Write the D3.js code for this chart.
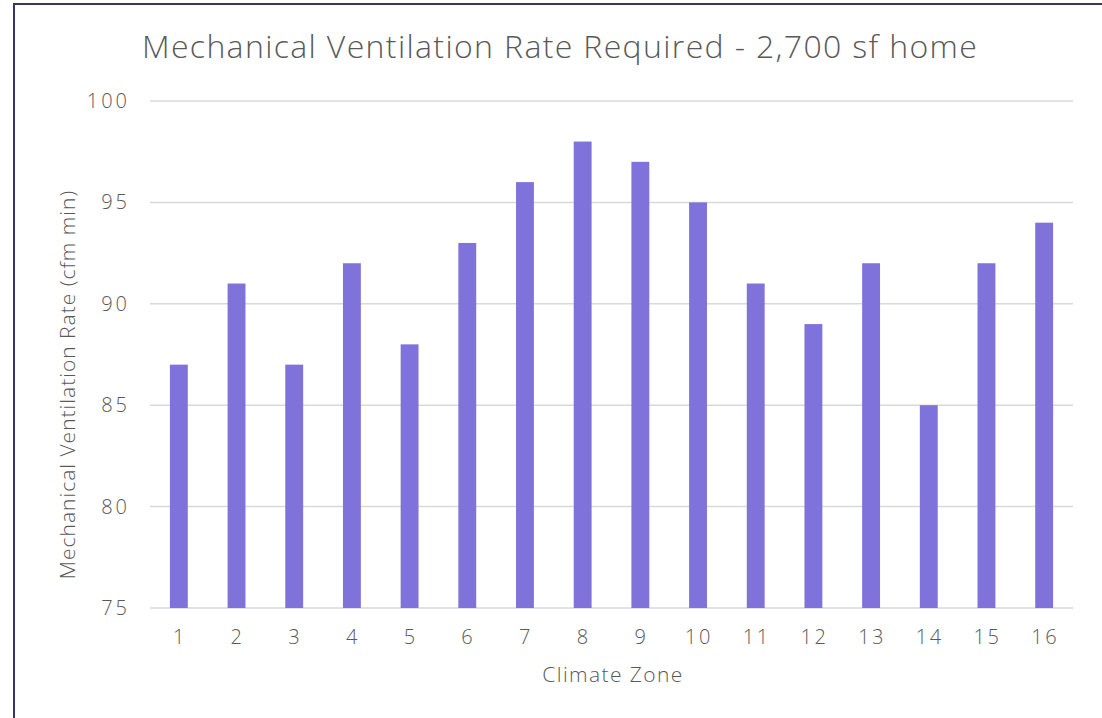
<!DOCTYPE html>
<html>
<head>
<meta charset="utf-8">
<script src="https://cdn.jsdelivr.net/npm/d3@7"></script>
<style>
  body { margin: 0; background: #fff; }
  svg text { font-family: "Open Sans", "Lato", sans-serif; font-weight: 300; fill: #595959; }
</style>
</head>
<body>
<div id="chart"></div>
<script>
// Data
const zones = ["1","2","3","4","5","6","7","8","9","10","11","12","13","14","15","16"];
const cfmRates = [87, 91, 87, 92, 88, 93, 96, 98, 97, 95, 91, 89, 92, 85, 92, 94];
const yTicks = [75, 80, 85, 90, 95, 100];

const width = 1102, height = 718;
const margin = { top: 101, right: 29, bottom: 110, left: 150 };

const svg = d3.select("#chart").append("svg")
  .attr("width", width)
  .attr("height", height);

// chart frame (only top and left edges show in the picture)
svg.append("rect")
  .attr("x", 14).attr("y", 4)
  .attr("width", 1100).attr("height", 730)
  .attr("fill", "none")
  .attr("stroke", "#3b3560")
  .attr("stroke-width", 2);

const x = d3.scaleBand()
  .domain(zones)
  .range([margin.left, width - margin.right])
  .paddingInner(0.69)
  .paddingOuter(0.345);

const y = d3.scaleLinear()
  .domain([75, 100])
  .range([height - margin.bottom, margin.top]);

// gridlines
svg.append("g")
  .selectAll("line")
  .data(yTicks)
  .enter()
  .append("line")
  .attr("x1", margin.left)
  .attr("x2", width - margin.right)
  .attr("y1", d => y(d))
  .attr("y2", d => y(d))
  .attr("stroke", "#d9d9d9")
  .attr("stroke-width", 1.5);

// bars
svg.append("g")
  .selectAll("rect")
  .data(cfmRates)
  .enter()
  .append("rect")
  .attr("x", (d, i) => x(zones[i]))
  .attr("y", d => y(d))
  .attr("width", x.bandwidth())
  .attr("height", d => y(75) - y(d))
  .attr("fill", "#7f72db");

// y axis labels
const yAxis = d3.axisLeft(y).tickValues(yTicks).tickSize(0).tickPadding(20);
const yG = svg.append("g")
  .attr("transform", `translate(${margin.left},0)`)
  .call(yAxis);
yG.select(".domain").remove();
yG.selectAll("text").style("font-size", "20px").style("letter-spacing", "3px");

// x axis labels
const xAxis = d3.axisBottom(x).tickSize(0).tickPadding(22);
const xG = svg.append("g")
  .attr("transform", `translate(1,${height - margin.bottom})`)
  .call(xAxis);
xG.select(".domain").remove();
xG.selectAll("text").style("font-size", "20px").style("letter-spacing", "2.5px");

// title
svg.append("text")
  .attr("x", 560)
  .attr("y", 58)
  .attr("text-anchor", "middle")
  .style("font-size", "32px")
  .style("letter-spacing", "1.35px")
  .text("Mechanical Ventilation Rate Required - 2,700 sf home");

// axis titles
svg.append("text")
  .attr("x", 613)
  .attr("y", 682)
  .attr("text-anchor", "middle")
  .style("font-size", "21px")
  .style("letter-spacing", "1.4px")
  .text("Climate Zone");

svg.append("text")
  .attr("transform", `translate(75, ${(margin.top + height - margin.bottom) / 2 + 30}) rotate(-90)`)
  .attr("text-anchor", "middle")
  .style("font-size", "21px")
  .style("letter-spacing", "1px")
  .text("Mechanical Ventilation Rate (cfm min)");
</script>
</body>
</html>
